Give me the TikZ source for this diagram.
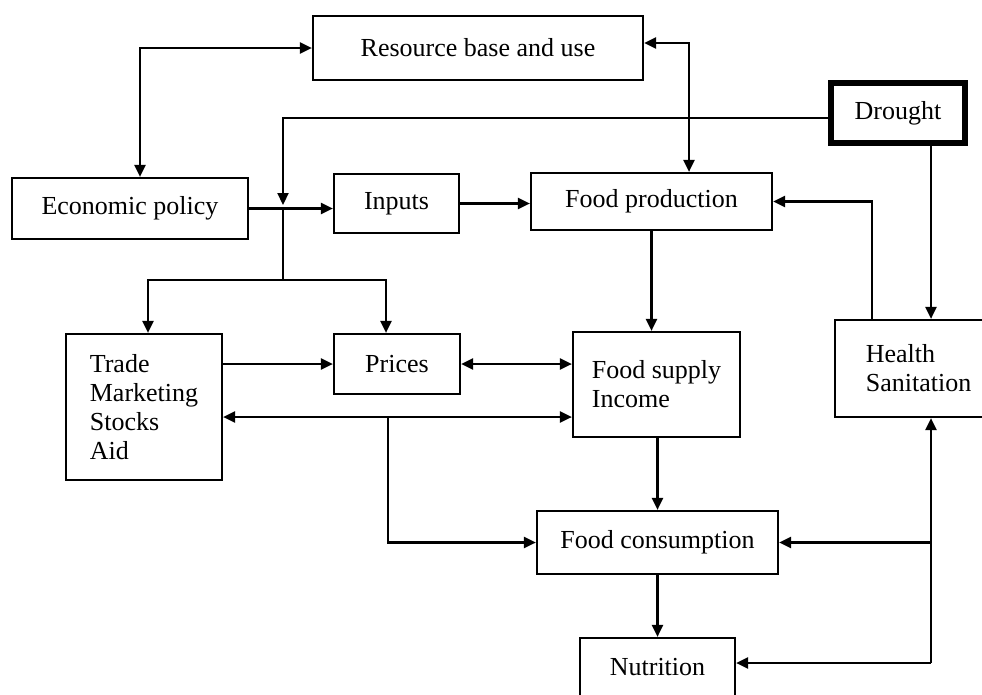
\documentclass[tikz,border=0pt]{standalone}
\usepackage{fontspec}
\setmainfont{Liberation Serif}
\usetikzlibrary{arrows.meta}
\begin{document}
\begin{tikzpicture}[x=1pt,y=-1pt,
  box/.style={draw, line width=2.2pt, inner sep=0pt, font=\fontsize{26}{29}\selectfont},
  conn/.style={line width=2.2pt},
  arr/.style={conn, -{Triangle[length=12pt,width=11pt]}},
  darr/.style={conn, {Triangle[length=12pt,width=11pt]}-{Triangle[length=12pt,width=11pt]}}]
\useasboundingbox (0,0) rectangle (982,694);
\clip (0,0) rectangle (982,694);
\fill[white] (0,0) rectangle (982,694);

\node[box, minimum width=330pt, minimum height=64pt] (res) at (478,48) {Resource base and use};
\node[box, minimum width=236pt, minimum height=61pt] (econ) at (130,208.5) {Economic policy};
\node[box, minimum width=125pt, minimum height=59pt] (inputs) at (396.5,203.5) {Inputs};
\node[box, line width=6pt, minimum width=134pt, minimum height=60pt] (drought) at (898,113) {Drought};
\node[box, minimum width=241pt, minimum height=57pt] (fprod) at (651.5,201.5) {Food production};
\node[box, align=left, minimum width=156pt, minimum height=146pt] (trade) at (144,407) {Trade\\Marketing\\Stocks\\Aid};
\node[box, minimum width=126pt, minimum height=60pt] (prices) at (397,364) {Prices};
\node[box, align=left, minimum width=167pt, minimum height=105pt] (fsupply) at (656.5,384.5) {Food supply\\Income};
\node[box, align=left, minimum width=167pt, minimum height=97pt] (health) at (918.5,368.5) {Health\\Sanitation};
\node[box, minimum width=241pt, minimum height=63pt] (fcons) at (657.5,542.5) {Food consumption};
\node[box, minimum width=155pt, minimum height=58pt] (nutr) at (657.5,667) {Nutrition};

\coordinate (jd) at (283,205);
\coordinate (js) at (283,280);
\coordinate (jt) at (388,417);
\coordinate (hb) at (931,663);
\coordinate (hc) at (931,0);
\coordinate (fb) at (872,0);

\draw[darr] (res.west) -| ([xshift=10pt]econ.north);
\draw[darr] ([yshift=5pt]res.east) -| ([xshift=37.5pt]fprod.north);
\draw[arr] ([yshift=-5pt]drought.west) -| (jd);
\draw[arr] (econ.east) -- (econ.east -| inputs.west);
\draw[conn] (econ.east -| jd) -- (js);
\draw[arr] (js) -| ([xshift=4pt]trade.north);
\draw[arr] (js) -| ([xshift=-11pt]prices.north);
\draw[arr] (inputs.east) -- (inputs.east -| fprod.west);
\draw[arr] (drought.south -| hc) -- (health.north -| hc);
\draw[arr] (health.north -| fb) |- (fprod.east);
\draw[arr] (fprod.south) -- (fprod.south |- fsupply.north);
\draw[arr] (trade.east |- prices.west) -- (prices.west);
\draw[darr] (prices.east) -- (prices.east -| fsupply.west);
\draw[darr] (trade.east |- jt) -- (fsupply.west |- jt);
\draw[arr] (jt) |- (fcons.west);
\draw[arr] (fsupply.south -| fcons.north) -- (fcons.north);
\draw[arr] (fcons.south) -- (nutr.north);
\draw[arr] (hb) -- (health.south -| hc);
\draw[arr] (hc |- fcons.east) -- (fcons.east);
\draw[arr] (hb) -- (hb -| nutr.east);
\end{tikzpicture}
\end{document}
